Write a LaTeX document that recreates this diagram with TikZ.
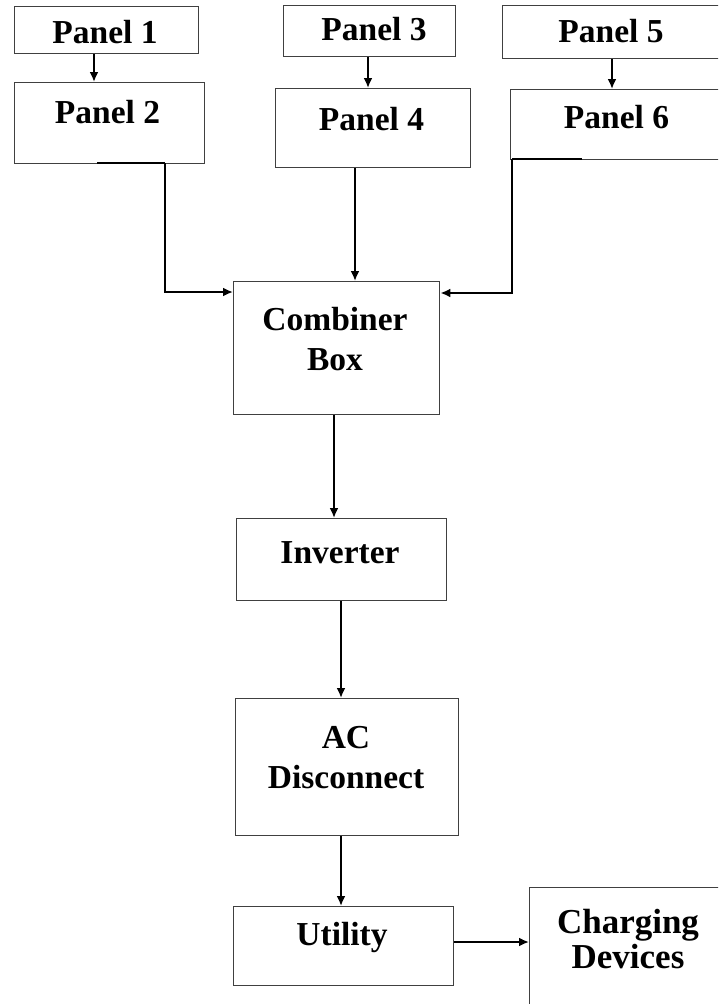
\documentclass[tikz,border=0pt]{standalone}
\usepackage{fontspec}
\setmainfont{Liberation Serif}
\usetikzlibrary{arrows.meta}
\begin{document}
\begin{tikzpicture}[x=1pt,y=1pt,
  boxshape/.style={draw=black!75,line width=1.4pt,inner sep=0pt,anchor=north west,rectangle},
  lbl/.style={font=\fontsize{33.5}{40}\selectfont\bfseries,inner sep=0pt,anchor=base},
  conn/.style={draw=black,line width=2pt,-{Latex[length=10pt,width=9pt]}},
  plain/.style={draw=black,line width=2pt}]
\useasboundingbox (0,0) rectangle (718,-1004);
\begin{scope}
\clip (0,0) rectangle (718,-1004);
% boxes
\node[boxshape,minimum width=184,minimum height=47] (p1) at (14,-6) {};
\node[boxshape,minimum width=190,minimum height=81] (p2) at (14,-82) {};
\node[boxshape,minimum width=172,minimum height=51] (p3) at (283,-5) {};
\node[boxshape,minimum width=195,minimum height=79] (p4) at (275,-88) {};
\node[boxshape,minimum width=240,minimum height=53] (p5) at (502,-5) {};
\node[boxshape,minimum width=240,minimum height=70] (p6) at (510,-89) {};
\node[boxshape,minimum width=206,minimum height=133] (cb) at (233,-281) {};
\node[boxshape,minimum width=210,minimum height=82] (inv) at (236,-518) {};
\node[boxshape,minimum width=223,minimum height=137] (ac) at (235,-698) {};
\node[boxshape,minimum width=220,minimum height=79] (ut) at (233,-906) {};
\node[boxshape,minimum width=220,minimum height=140] (ch) at (529,-887) {};
% labels
\node[lbl] (t1) at (105,-43) {Panel 1};
\node[lbl] (t2) at (107.5,-123) {Panel 2};
\node[lbl] (t3) at (374,-40) {Panel 3};
\node[lbl] (t4) at (371.5,-130) {Panel 4};
\node[lbl] (t5) at (611,-42) {Panel 5};
\node[lbl] (t6) at (616.5,-128) {Panel 6};
\node[lbl] (tcb1) at (335,-330) {Combiner};
\node[lbl] (tcb2) at (335,-370) {Box};
\node[lbl] (tinv) at (340,-563) {Inverter};
\node[lbl] (tac1) at (346,-748) {AC};
\node[lbl] (tac2) at (346,-788) {Disconnect};
\node[lbl] (tut) at (342,-945) {Utility};
\node[lbl,font=\fontsize{35}{40}\selectfont\bfseries] (tch1) at (628,-933) {Charging};
\node[lbl,font=\fontsize{35}{40}\selectfont\bfseries] (tch2) at (628,-968) {Devices};
% connector helper points
\coordinate (p2a) at (97,-163);
\coordinate (p2b) at (165,-163);
\coordinate (p6a) at (582,-159);
\coordinate (p6b) at (512,-159);
% connectors
\draw[conn] (p1.south -| 94,0) -- (p2.north -| 94,0);
\draw[conn] (p3.south -| 368,0) -- (p4.north -| 368,0);
\draw[conn] (p5.south -| 612,0) -- (p6.north -| 612,0);
\draw[plain] (p2a) -- (p2b);
\draw[conn] (p2b) -- (165,-292) -- (cb.west |- 0,-292);
\draw[conn] (p4.south -| 355,0) -- (cb.north -| 355,0);
\draw[plain] (p6a) -- (p6b);
\draw[conn] (p6b) -- (512,-293) -- (cb.east |- 0,-293);
\draw[conn] (cb.south -| 334,0) -- (inv.north -| 334,0);
\draw[conn] (inv.south -| 341,0) -- (ac.north -| 341,0);
\draw[conn] (ac.south -| 341,0) -- (ut.north -| 341,0);
\draw[conn] (ut.east |- 0,-942) -- (ch.west |- 0,-942);
\end{scope}
\end{tikzpicture}
\end{document}
